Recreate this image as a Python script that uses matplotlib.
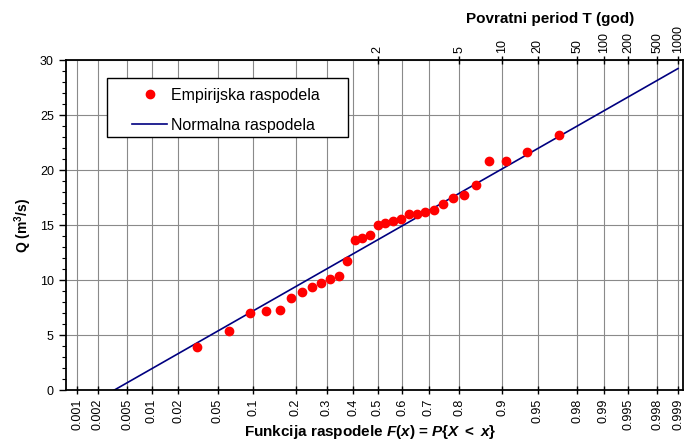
import numpy as np
import matplotlib
matplotlib.use("Agg")
from matplotlib import pyplot as plt
from matplotlib.patches import Rectangle
from statistics import NormalDist

plt.rcParams['font.family'] = ['Liberation Sans', 'DejaVu Sans']
plt.rcParams['mathtext.fontset'] = 'custom'
plt.rcParams['mathtext.rm'] = 'Liberation Sans'
plt.rcParams['mathtext.it'] = 'Liberation Sans:italic'
plt.rcParams['mathtext.bf'] = 'Liberation Sans:bold'
plt.rcParams['mathtext.bfit'] = 'Liberation Sans:bold:italic'

# sorted observed flows Q (m3/s)
q = [3.88, 5.36, 7.03, 7.18, 7.27, 8.33, 8.88, 9.33, 9.70, 10.06, 10.36,
     11.76, 13.60, 13.85, 14.09, 14.97, 15.15, 15.36, 15.55, 16.00, 16.03,
     16.15, 16.36, 16.92, 17.42, 17.73, 18.65, 20.82, 20.82, 21.67, 23.15]

prob_ticks = [0.001, 0.002, 0.005, 0.01, 0.02, 0.05, 0.1, 0.2, 0.3, 0.4, 0.5,
              0.6, 0.7, 0.8, 0.9, 0.95, 0.98, 0.99, 0.995, 0.998, 0.999]
prob_labels = ['0.001', '0.002', '0.005', '0.01', '0.02', '0.05', '0.1', '0.2',
               '0.3', '0.4', '0.5', '0.6', '0.7', '0.8', '0.9', '0.95', '0.98',
               '0.99', '0.995', '0.998', '0.999']
periods = [2, 5, 10, 20, 50, 100, 200, 500, 1000]

ppf = NormalDist().inv_cdf
narrow = ['Liberation Sans Narrow', 'Liberation Sans', 'DejaVu Sans']

n = len(q)
F_emp = [(i + 1) / (n + 1) for i in range(n)]   # Weibull plotting position
z_emp = [ppf(f) for f in F_emp]

mu = np.mean(q)
sigma = np.std(q, ddof=1)
z_line = np.array([ppf(0.001), ppf(0.999)])
q_line = mu + sigma * z_line

fig = plt.figure(figsize=(6.85, 4.41), dpi=100)
ax = fig.add_axes([0.0959, 0.1156, 0.901, 0.748])

ax.plot(z_emp, q, 'o', color='#ff0000', markersize=6, label='Empirijska raspodela', zorder=3)
ax.plot(z_line, q_line, color='#000080', lw=1.2, label='Normalna raspodela', zorder=2)

ax.set_xlim(-3.21, 3.14)
ax.set_ylim(0, 30)

ax.set_xticks([ppf(p) for p in prob_ticks])
ax.set_xticklabels(prob_labels, rotation=90, fontsize=9, family=narrow)
ax.set_yticks(range(0, 31, 5))
ax.set_yticks(range(0, 31), minor=True)
ax.tick_params(axis='y', labelsize=9, direction='out', length=5, width=1)
ax.tick_params(axis='y', which='minor', direction='out', length=3, width=0.8)
ax.tick_params(axis='x', direction='inout', length=6, width=1, pad=3)

ax.grid(True, color='#8a8a8a', lw=0.8)
ax.set_axisbelow(True)
for s in ax.spines.values():
    s.set_linewidth(1.3)

ax.set_ylabel(r'Q (m$^\mathbf{3}$/s)', fontsize=10, fontweight='bold', labelpad=4)
fig.text(0.54, 0.02,
         r'Funkcija raspodele $\mathbfit{F}\mathbf{(}\mathbfit{x}\mathbf{)}$ = '
         r'$\mathbfit{P}\mathbf{\{}\mathbfit{X}\ \mathbf{<}\ \mathbfit{x}\mathbf{\}}$',
         fontsize=11, fontweight='bold', ha='center', va='center')

top = ax.twiny()
top.set_xlim(ax.get_xlim())
top.set_xticks([ppf(1 - 1 / t) for t in periods])
top.set_xticklabels([str(t) for t in periods], rotation=90, fontsize=9, family=narrow)
top.tick_params(axis='x', direction='inout', length=6, width=1, pad=2)
for s in top.spines.values():
    s.set_visible(False)
fig.text(0.803, 0.958, 'Povratni period T (god)', fontsize=11, fontweight='bold',
         ha='center', va='center')

# legend box drawn by hand so it matches the reference padding
ax.add_patch(Rectangle((0.0669, 0.7667), 0.3904, 0.1788, transform=ax.transAxes,
                       facecolor='white', edgecolor='black', lw=1.0, zorder=4))
leg = ax.legend(loc='upper left', bbox_to_anchor=(0.1074, 0.917), fontsize=11.5,
                frameon=False, borderpad=0, labelspacing=0.95, handlelength=2.2,
                handletextpad=0.25, borderaxespad=0)
leg.set_zorder(5)

fig.savefig('out.png', dpi=100)
